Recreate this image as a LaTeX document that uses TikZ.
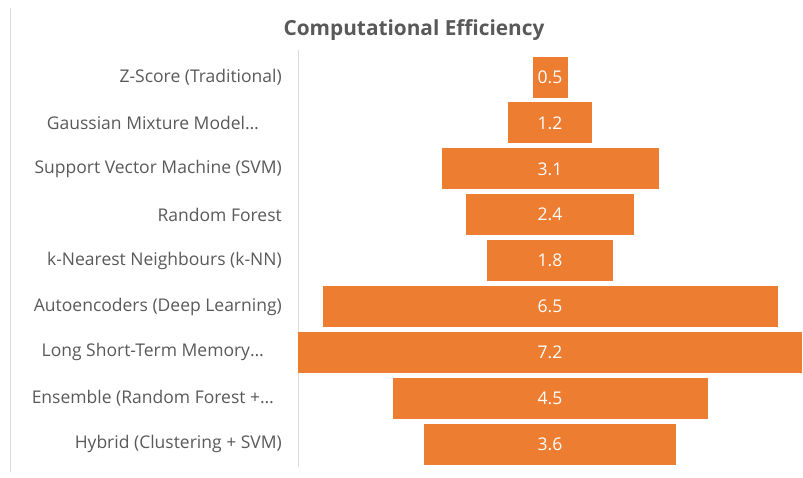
\documentclass[tikz,border=0pt]{standalone}
\usepackage{fontspec}
\setmainfont{Open Sans}
\usetikzlibrary{positioning}

\definecolor{barorange}{HTML}{ED7D31}
\definecolor{txtgrey}{HTML}{595959}
\definecolor{linegrey}{HTML}{D9D9D9}

\begin{document}
\begin{tikzpicture}[
    x=1pt, y=-1pt,
    bar/.style={fill=barorange, draw=none, inner sep=0pt, minimum height=41pt,
                text=white, font=\fontsize{17.5}{20}\selectfont},
    catlabel/.style={anchor=east, inner sep=0pt, text=txtgrey, font=\fontsize{17.5}{20}\selectfont},
    charttitle/.style={text=txtgrey, font=\bfseries\fontsize{20.8}{24}\selectfont}
]
    \useasboundingbox (0,0) rectangle (803,477);

    % Chart frame and category axis
    \draw[linegrey] (10,8) -- (10,472);
    \draw[linegrey] (298,50) -- (298,467);

    % Title
    \node[charttitle] (title) at (414,30) {Computational Efficiency};

    % Bars, centred on the middle line, 70pt per unit
    % (truncated names end a little short of the axis)
    \foreach \val/\name/\rx [count=\i] in {
        0.5/Z-Score (Traditional)/282,
        1.2/Gaussian Mixture Model…/259,
        3.1/Support Vector Machine (SVM)/282,
        2.4/Random Forest/282,
        1.8/k-Nearest Neighbours (k-NN)/282,
        6.5/Autoencoders (Deep Learning)/282,
        7.2/Long Short-Term Memory…/264,
        4.5/Ensemble (Random Forest +…/274,
        3.6/Hybrid (Clustering + SVM)/282} {
        \node[bar, minimum width=\val*70pt] (bar\i) at (550,{77+(\i-1)*45.9}) {\val};
        \node[catlabel] (cat\i) at (\rx,{77+(\i-1)*45.9}) {\name};
    }
\end{tikzpicture}
\end{document}
